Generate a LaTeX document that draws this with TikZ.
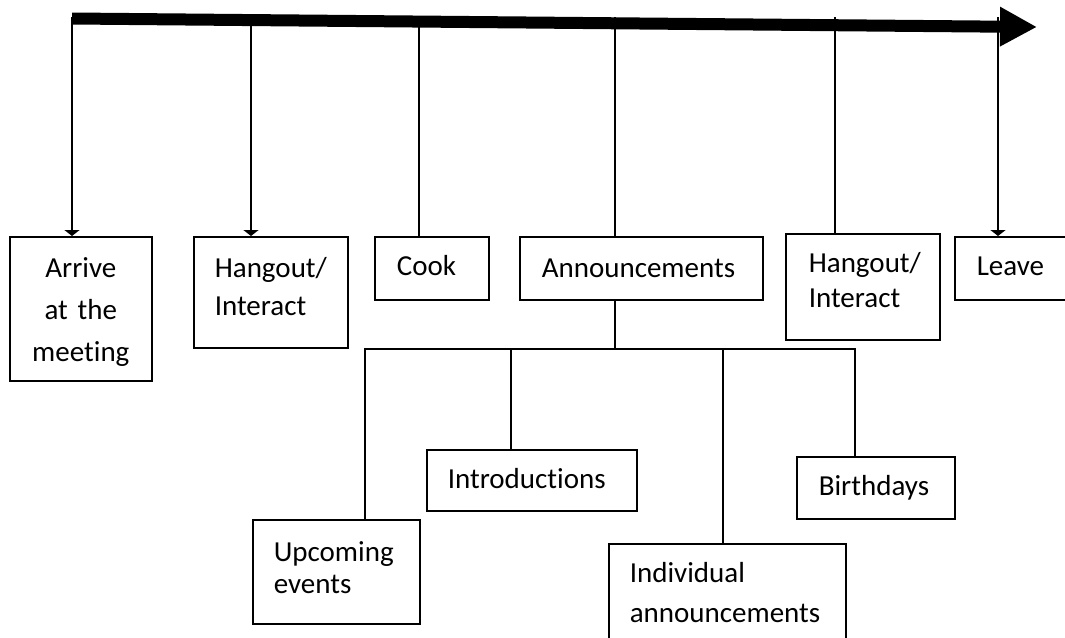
\documentclass[tikz,border=0pt]{standalone}
\usepackage{fontspec}
\setmainfont{Carlito}[Ligatures=NoCommon]
\usetikzlibrary{arrows.meta}

\tikzset{
  stage/.style={draw, line width=1.6pt, anchor=north west, inner ysep=0pt, align=left, font=\fontsize{29}{36}\selectfont},
  link/.style={line width=1.6pt},
  drop/.style={link, -{Triangle[width=15pt,length=6pt]}},
}

\begin{document}
\begin{tikzpicture}[x=1pt, y=1pt]
  \useasboundingbox (0,0) rectangle (1065,-637);

  % time line
  \coordinate (tstart) at (72,-18.5);
  \coordinate (tend) at (1037,-27);
  \draw[line width=12pt, -{Triangle[length=37pt,width=37pt]}] (tstart) -- (tend);

  % steps of the meeting
  \node[stage, text width=142pt, inner xsep=0pt, align=center, text height=41pt, text depth=103pt, font=\fontsize{29}{42}\selectfont] (arrive) at (9,-236) {Arrive\\at the\\meeting};
  \node[stage, text width=112pt, inner xsep=21pt, text height=41pt, text depth=70pt, font=\fontsize{29}{38}\selectfont] (hang1) at (193,-236) {Hangout/\\Interact};
  \node[stage, text width=70pt, inner xsep=22pt, text height=39pt, text depth=24pt] (cook) at (374,-236) {Cook};
  \node[stage, text width=199pt, inner xsep=22pt, text height=41pt, text depth=22pt] (ann) at (519,-236) {Announcements};
  \node[stage, text width=108pt, inner xsep=23pt, text height=39pt, text depth=67pt, font=\fontsize{29}{35}\selectfont] (hang2) at (785,-233) {Hangout/\\Interact};
  \node[stage, text width=77pt, inner xsep=22pt, text height=39pt, text depth=24pt] (leave) at (954,-236) {Leave};

  % kinds of announcements
  \node[stage, text width=125pt, inner xsep=21pt, text height=42pt, text depth=62pt, font=\fontsize{29}{32}\selectfont] (upcoming) at (252,-519) {Upcoming\\events};
  \node[stage, text width=168pt, inner xsep=21pt, text height=39pt, text depth=22pt] (intro) at (426,-449) {Introductions};
  \node[stage, text width=195pt, inner xsep=21pt, text height=39pt, text depth=78pt, font=\fontsize{29}{40}\selectfont] (indiv) at (608,-543) {Individual\\announcements};
  \node[stage, text width=114pt, inner xsep=22pt, text height=39pt, text depth=23pt] (bday) at (796,-456) {Birthdays};

  % drops from the time line
  \coordinate (s1) at (72,-17);
  \coordinate (s2) at (251,-17);
  \coordinate (s3) at (419,-17);
  \coordinate (s4) at (615,-17);
  \coordinate (s5) at (835,-17);
  \coordinate (s6) at (998,-17);
  \draw[drop] (s1) -- (s1 |- arrive.north);
  \draw[drop] (s2) -- (s2 |- hang1.north);
  \draw[link] (s3) -- (s3 |- cook.north);
  \draw[link] (s4) -- (s4 |- ann.north);
  \draw[link] (s5) -- (s5 |- hang2.north);
  \draw[drop] (s6) -- (s6 |- leave.north);

  % tree below the announcements
  \coordinate (hub) at (615,-349);
  \coordinate (b1) at (365,-349);
  \coordinate (b2) at (511,-349);
  \coordinate (b3) at (723,-349);
  \coordinate (b4) at (855,-349);
  \draw[link] (s4 |- ann.south) -- (hub);
  \draw[link] (b1 |- upcoming.north) -- (b1) -- (b4) -- (b4 |- bday.north);
  \draw[link] (b2) -- (b2 |- intro.north);
  \draw[link] (b3) -- (b3 |- indiv.north);
\end{tikzpicture}
\end{document}
